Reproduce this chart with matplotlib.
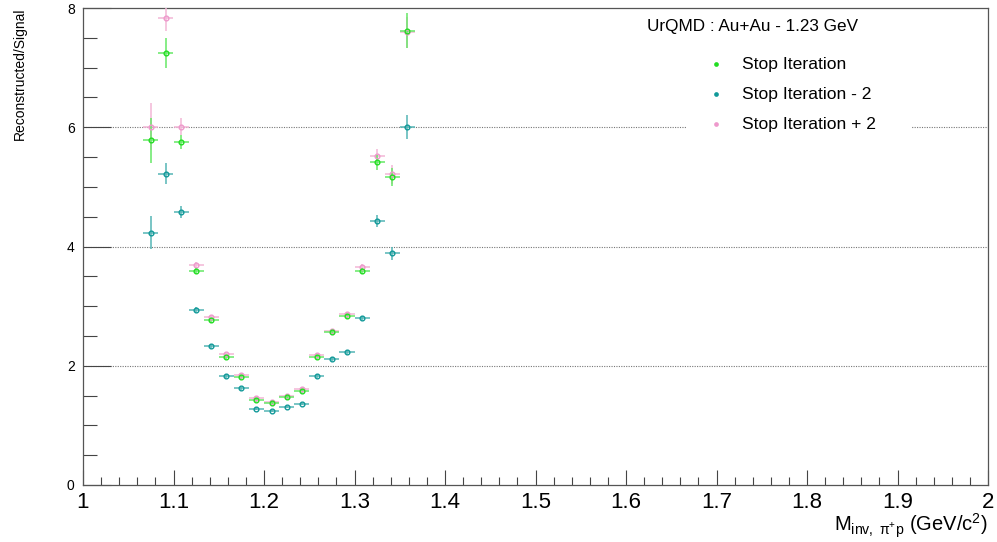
import numpy as np
import matplotlib
matplotlib.use("Agg")
import matplotlib.pyplot as plt
from matplotlib.ticker import MultipleLocator

plt.rcParams['font.family'] = ['Liberation Sans', 'DejaVu Sans']
plt.rcParams['mathtext.fontset'] = 'custom'
plt.rcParams['mathtext.rm'] = 'Liberation Sans'
plt.rcParams['mathtext.it'] = 'Liberation Sans:italic'

# invariant-mass bins (width 1/60 GeV/c^2)
bin_width = 1.0 / 60.0
bin_centers = 1.0 + (np.arange(4, 22) + 0.5) * bin_width

ratio_stop = [5.78, 7.24, 5.75, 3.59, 2.76, 2.14, 1.81, 1.43, 1.38, 1.47,
              1.58, 2.15, 2.56, 2.83, 3.59, 5.41, 5.16, 7.62]
err_stop = [0.38, 0.25, 0.12, 0.05, 0.04, 0.03, 0.03, 0.03, 0.02, 0.03,
            0.03, 0.03, 0.03, 0.04, 0.05, 0.12, 0.15, 0.29]

ratio_minus2 = [4.23, 5.22, 4.58, 2.94, 2.33, 1.83, 1.62, 1.28, 1.24, 1.31,
                1.36, 1.83, 2.11, 2.23, 2.80, 4.43, 3.89, 6.00]
err_minus2 = [0.28, 0.18, 0.10, 0.04, 0.03, 0.03, 0.03, 0.02, 0.02, 0.02,
              0.02, 0.03, 0.03, 0.03, 0.04, 0.10, 0.11, 0.20]

ratio_plus2 = [6.01, 7.83, 6.01, 3.69, 2.81, 2.19, 1.85, 1.46, 1.39, 1.49,
               1.61, 2.18, 2.58, 2.86, 3.66, 5.51, 5.21, 7.59]
err_plus2 = [0.39, 0.21, 0.14, 0.05, 0.04, 0.03, 0.03, 0.03, 0.02, 0.03,
             0.03, 0.03, 0.03, 0.04, 0.05, 0.13, 0.16, 0.26]

labels = ["Stop Iteration", "Stop Iteration - 2", "Stop Iteration + 2"]
marker_colors = ["#22dd22", "#119999", "#ee99cc"]
bar_colors = ["#66e866", "#55b5b5", "#f2b6d6"]

fig = plt.figure(figsize=(9.97, 5.42), dpi=100)
ax = fig.add_axes([83 / 997, 1 - 485 / 542, 905 / 997, 477 / 542])

series = [(ratio_minus2, err_minus2, 1), (ratio_plus2, err_plus2, 2),
          (ratio_stop, err_stop, 0)]
for vals, errs, idx in series:
    ax.errorbar(bin_centers, vals, yerr=errs, xerr=bin_width / 2,
                fmt='none', ecolor=bar_colors[idx], elinewidth=1.1,
                capsize=0, zorder=3)
    ax.plot(bin_centers, vals, 'o', mfc='none', mec=marker_colors[idx],
            mew=1.0, ms=3.4, zorder=4)

ax.set_xlim(1, 2)
ax.set_ylim(0, 8)

# horizontal dotted grid at the labelled values
for yv in (2, 4, 6):
    ax.axhline(yv, color='#777777', lw=0.8, ls=(0, (1, 1.2)), zorder=1)

ax.xaxis.set_major_locator(MultipleLocator(0.1))
ax.xaxis.set_minor_locator(MultipleLocator(0.02))
ax.yaxis.set_major_locator(MultipleLocator(2))
ax.yaxis.set_minor_locator(MultipleLocator(0.5))
ax.tick_params(axis='x', which='major', direction='in', length=11, width=0.8,
               top=False, labelsize=16, pad=5, color='#444444')
ax.tick_params(axis='x', which='minor', direction='in', length=5.5, width=0.8,
               top=False, color='#444444')
ax.tick_params(axis='y', which='major', direction='in', length=20, width=0.8,
               right=False, labelsize=10, pad=6, color='#444444')
ax.tick_params(axis='y', which='minor', direction='in', length=10, width=0.8,
               right=False, color='#444444')
ax.set_xticks([1, 1.1, 1.2, 1.3, 1.4, 1.5, 1.6, 1.7, 1.8, 1.9, 2])
ax.set_xticklabels(['1', '1.1', '1.2', '1.3', '1.4', '1.5', '1.6', '1.7',
                    '1.8', '1.9', '2'])
ax.set_yticks([0, 2, 4, 6, 8])
ax.set_yticklabels(['0', '2', '4', '6', '8'])
for sp in ax.spines.values():
    sp.set_color('#555555')
    sp.set_linewidth(0.9)

fig.text(988 / 997, 1 - 532 / 542,
         r'M$_{\mathrm{inv,}\ \mathrm{π}^{+}\mathrm{p}}$ (GeV/c$^{2}$)',
         ha='right', va='baseline', fontsize=14.5)
fig.text(20 / 997, 1 - 8 / 542, 'Reconstructed/Signal', rotation=90,
         ha='center', va='top', fontsize=10)

# legend panel with white fill over the grid
ax.add_patch(plt.Rectangle((1.666, 5.8), 0.25, 2.05, facecolor='white',
                           edgecolor='none', zorder=2))
ax.text((647 - 83) / 905 + 1, (485 - 27) / 59.625, 'UrQMD : Au+Au - 1.23 GeV',
        ha='left', va='center', fontsize=12.3, zorder=5)
leg_y = [64, 94, 124]
for i, yy in enumerate(leg_y):
    yv = (485 - yy) / 59.625
    ax.plot([(716 - 83) / 905 + 1], [yv], 'o', color=marker_colors[i],
            ms=3.4, mew=0, zorder=5, clip_on=False)
    ax.text((742 - 83) / 905 + 1, yv, labels[i], ha='left', va='center',
            fontsize=12.6, zorder=5)

fig.savefig('out.png', dpi=100)
